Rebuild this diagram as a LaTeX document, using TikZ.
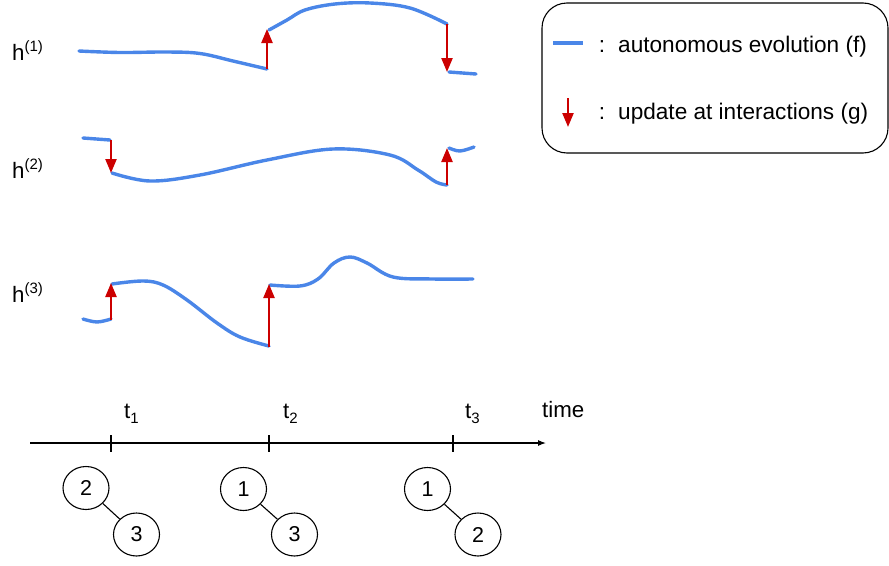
\documentclass[tikz,border=0pt]{standalone}
\usepackage{fontspec}
\setmainfont{Liberation Sans}
\usetikzlibrary{arrows.meta,shapes.geometric}
\definecolor{evoblue}{RGB}{74,134,232}
\definecolor{updred}{RGB}{204,0,0}
\begin{document}
\begin{tikzpicture}[x=1pt,y=-1pt,
  evo/.style={draw=evoblue,line width=3.4pt,line cap=round,line join=round},
  upd/.style={draw=updred,line width=2.3pt,-{Triangle[width=11pt,length=14pt]}},
  lbl/.style={inner sep=0pt,anchor=base west,font=\fontsize{22.3}{24}\selectfont},
  legtxt/.style={inner sep=0pt,anchor=base west,font=\fontsize{22.6}{26}\selectfont},
  agent/.style={draw,ellipse,line width=1.1pt,minimum width=46pt,minimum height=43pt,inner sep=0pt,font=\fontsize{21.5}{24}\selectfont},
  thin/.style={draw,line width=1.1pt}]
\useasboundingbox (0,0) rectangle (889,565);
\newcommand{\smallsz}{\fontsize{15}{15}\selectfont}
% row labels
\node[lbl] (h1) at (12,60) {h\raisebox{9pt}{\smallsz(1)}};
\node[lbl] (h2) at (12,178) {h\raisebox{9pt}{\smallsz(2)}};
\node[lbl] (h3) at (12,302) {h\raisebox{9pt}{\smallsz(3)}};
% h1 curve
\draw[evo] plot[smooth,tension=0.6] coordinates {(79,51) (120,52.5) (167,52) (200,53.5) (233,61) (267,69)};
\draw[evo] plot[smooth,tension=0.6] coordinates {(269,30) (287,20) (305,10) (335,4) (370,3) (410,8) (447,24)};
\draw[evo] (449,72) -- (476,74);
% h2 curve
\draw[evo] (83,138) -- (110,140);
\draw[evo] plot[smooth,tension=0.6] coordinates {(112,173) (150,181) (200,175) (267,160) (333,149) (390,155) (418,170) (436,182) (447,185)};
\draw[evo] plot[smooth,tension=0.6] coordinates {(449,148) (460,151) (474,147)};
% h3 curve
\draw[evo] plot[smooth,tension=0.6] coordinates {(83,319) (97,322) (111,319)};
\draw[evo] plot[smooth,tension=0.6] coordinates {(112,284) (143,281) (163,285) (187,300) (217,323) (240,337) (269,346)};
\draw[evo] plot[smooth,tension=0.6] coordinates {(270,285) (300,286) (318,279) (334,263) (350,257) (367,263) (393,277) (433,279) (473,279)};
% update arrows
\coordinate (u1a) at (267,69);  \coordinate (u1b) at (267,29);
\coordinate (u2a) at (447,24);  \coordinate (u2b) at (447,72);
\coordinate (u3a) at (111,140); \coordinate (u3b) at (111,173);
\coordinate (u4a) at (447,185); \coordinate (u4b) at (447,148);
\coordinate (u5a) at (111,320); \coordinate (u5b) at (111,283);
\coordinate (u6a) at (269,347); \coordinate (u6b) at (269,284);
\draw[upd] (u1a) -- (u1b);
\draw[upd] (u2a) -- (u2b);
\draw[upd] (u3a) -- (u3b);
\draw[upd] (u4a) -- (u4b);
\draw[upd] (u5a) -- (u5b);
\draw[upd] (u6a) -- (u6b);
% legend
\node[draw,line width=1.1pt,rounded corners=25pt,minimum width=346pt,minimum height=150pt,inner sep=0pt] (legend) at (715,78) {};
\coordinate (lb1) at (553,43); \coordinate (lb2) at (583,43);
\draw[evo,line cap=butt] (lb1) -- (lb2);
\coordinate (lr1) at (568,98); \coordinate (lr2) at (568,127);
\draw[upd] (lr1) -- (lr2);
\node[legtxt,anchor=base] (c1) at (602,52) {:};
\node[legtxt] (l1) at (618,52) {autonomous evolution (f)};
\node[legtxt,anchor=base] (c2) at (602,119) {:};
\node[legtxt] (l2) at (618,119) {update at interactions (g)};
% time axis
\coordinate (axL) at (30,443); \coordinate (axR) at (546,443);
\draw[thin,-{Latex[length=8pt,width=6pt]}] (axL) -- (axR);
\foreach \x/\n in {111/1,269/2,453/3}{
  \coordinate (tk\n a) at (\x,435); \coordinate (tk\n b) at (\x,452);
  \draw[thin] (tk\n a) -- (tk\n b);
}
\node[lbl] (t1) at (124,418) {t\raisebox{-5pt}{\smallsz 1}};
\node[lbl] (t2) at (283,418) {t\raisebox{-5pt}{\smallsz 2}};
\node[lbl] (t3) at (465,418) {t\raisebox{-5pt}{\smallsz 3}};
\node[lbl] (time) at (542,417) {time};
% interaction pairs
\node[agent] (p1a) at (86,488) {2};
\node[agent] (p1b) at (136.5,534.5) {3};
\node[agent] (p2a) at (243.5,489) {1};
\node[agent] (p2b) at (294.5,534.5) {3};
\node[agent] (p3a) at (427.5,489) {1};
\node[agent] (p3b) at (478,534.5) {2};
\draw[thin] (p1a) -- (p1b);
\draw[thin] (p2a) -- (p2b);
\draw[thin] (p3a) -- (p3b);
\end{tikzpicture}
\end{document}
